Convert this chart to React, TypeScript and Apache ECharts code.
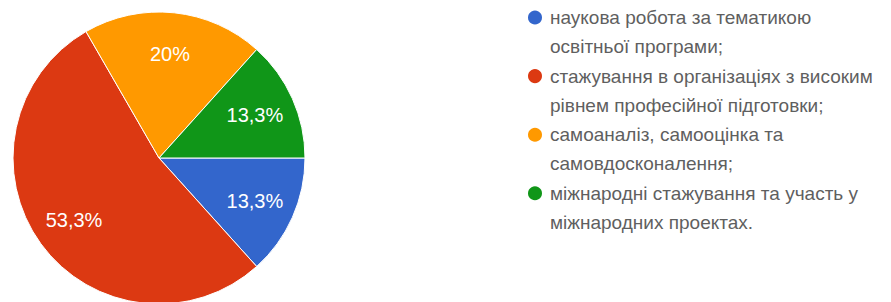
import React, { useEffect, useRef } from "react";
import * as echarts from "echarts";

const categories: string[] = [
  "наукова робота за тематикою\nосвітньої програми;",
  "стажування в організаціях з високим\nрівнем професійної підготовки;",
  "самоаналіз, самооцінка та\nсамовдосконалення;",
  "міжнародні стажування та участь у\nміжнародних проектах.",
];
const values: number[] = [2, 8, 3, 2];
const colors: string[] = ["#3366cc", "#dc3912", "#ff9900", "#109618"];

const total = values.reduce((a, b) => a + b, 0);
const fmtPct = (v: number) => {
  const p = Math.round((v / total) * 1000) / 10;
  return String(p).replace(".", ",") + "%";
};

const FONT = "'Liberation Sans', Arial, sans-serif";
const LH = 29.3;

export default function App() {
  const ref = useRef<HTMLDivElement>(null);
  useEffect(() => {
    if (!ref.current) return;
    const chart = echarts.init(ref.current, undefined, { renderer: "svg" });
    const data = categories.map((name, i) => ({
      name,
      value: values[i],
      itemStyle: { color: colors[i] },
    }));
    chart.setOption({
      animation: false,
      backgroundColor: "#ffffff",
      legend: {
        orient: "vertical",
        left: 526,
        top: 17.5 - LH * 1.5,
        padding: 0,
        itemGap: -LH,
        itemWidth: 20,
        itemHeight: 16,
        icon: "circle",
        selectedMode: false,
        data: categories,
        formatter: (name: string) => "\n" + name,
        textStyle: {
          fontFamily: FONT,
          fontSize: 19,
          color: "#5f5f5f",
          lineHeight: LH,
        },
      },
      series: [
        {
          type: "pie",
          center: [159, 158],
          radius: [0, 146],
          startAngle: 0,
          clockwise: true,
          silent: true,
          label: { show: false },
          labelLine: { show: false },
          itemStyle: { borderColor: "#ffffff", borderWidth: 1 },
          data,
        },
        {
          type: "pie",
          center: [159, 158],
          radius: [58, 146],
          startAngle: 0,
          clockwise: true,
          silent: true,
          itemStyle: { color: "rgba(0,0,0,0)" },
          label: {
            show: true,
            position: "inside",
            fontFamily: FONT,
            fontSize: 20,
            color: "#ffffff",
            formatter: (p: any) => fmtPct(p.value),
          },
          labelLine: { show: false },
          data: categories.map((name, i) => ({
            name,
            value: values[i],
            itemStyle: { color: "rgba(0,0,0,0)" },
          })),
        },
      ],
    });
    return () => chart.dispose();
  }, []);
  return (
    <div
      ref={ref}
      style={{ position: "fixed", left: 0, top: 0, width: 891, height: 302 }}
    />
  );
}
